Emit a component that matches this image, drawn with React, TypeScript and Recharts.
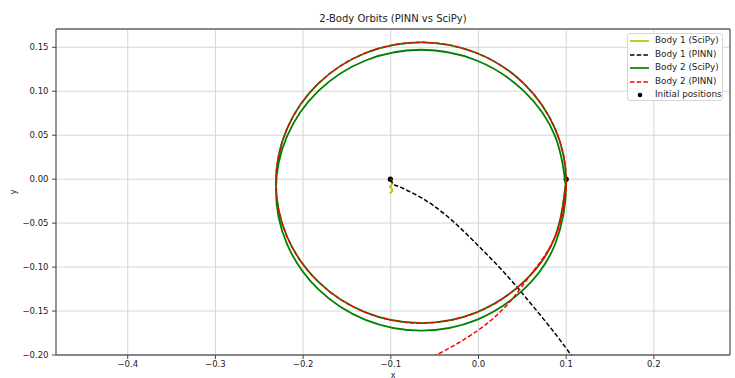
import { CartesianGrid, ReferenceLine, Scatter, ScatterChart, XAxis, YAxis } from "recharts";

type Pt = [number, number];

const xTicks = [-0.4, -0.3, -0.2, -0.1, 0, 0.1, 0.2];
const yTicks = [-0.2, -0.15, -0.1, -0.05, 0, 0.05, 0.1, 0.15];
const xDomain = [-0.4818, 0.2868];
const yDomain = [-0.2, 0.1708];

const initialPositions: Pt[] = [
  [-0.1005, 0.0],
  [0.1, 0.0],
];

const body1SciPy: Pt[] = [
  [-0.1005, 0.0], [-0.0985, -0.0025], [-0.0982, -0.005], [-0.1, -0.0075], [-0.1012, -0.0085],
  [-0.0995, -0.01], [-0.0982, -0.0125], [-0.0995, -0.015], [-0.1015, -0.016],
];

const body1Pinn: Pt[] = [
  [-0.1005, 0.0], [-0.0985, -0.004], [-0.096, -0.0065], [-0.09, -0.0088], [-0.07, -0.0185],
  [-0.05, -0.031], [-0.03, -0.047], [-0.01, -0.066], [0.01, -0.086], [0.03, -0.107],
  [0.05, -0.13], [0.07, -0.154], [0.09, -0.179], [0.1056, -0.2], [0.114, -0.211],
];

const body2SciPy: Pt[] = [
  [0.1, 0.0],
  [0.0874, -0.0652], [0.0515, -0.1169], [-0.0021, -0.1515], [-0.0655, -0.1637],
  [-0.1289, -0.1515], [-0.1825, -0.1169], [-0.2184, -0.0652], [-0.231, -0.004],
  [-0.2184, 0.0572], [-0.1825, 0.1089], [-0.1289, 0.1435], [-0.0655, 0.1557],
  [-0.0021, 0.1435], [0.0515, 0.1089], [0.0874, 0.0572], [0.1, -0.004],
  [0.0874, -0.0737], [0.0515, -0.1254], [-0.0021, -0.16], [-0.0655, -0.1722],
  [-0.1289, -0.16], [-0.1825, -0.1254], [-0.2184, -0.0737], [-0.231, -0.0125],
  [-0.2184, 0.0487], [-0.1825, 0.1004], [-0.1289, 0.135], [-0.0655, 0.1472],
  [-0.0021, 0.135], [0.0515, 0.1004], [0.0874, 0.0487], [0.1, -0.0125],
];

const body2Pinn: Pt[] = [
  [0.1, 0.0],
  [0.0874, -0.0652], [0.0515, -0.1169], [-0.0021, -0.1515], [-0.0655, -0.1637],
  [-0.1289, -0.1515], [-0.1825, -0.1169], [-0.2184, -0.0652], [-0.231, -0.004],
  [-0.2184, 0.0572], [-0.1825, 0.1089], [-0.1289, 0.1435], [-0.0655, 0.1557],
  [-0.0021, 0.1435], [0.0515, 0.1089], [0.0874, 0.0572], [0.1, -0.004],
  [0.0874, -0.0655], [0.06, -0.108], [0.04, -0.1345], [0.02, -0.1555], [0.0, -0.1715],
  [-0.025, -0.1875], [-0.05, -0.201], [-0.07, -0.211],
];

const toPoints = (pts: Pt[]) => pts.map(([x, y]) => ({ x, y }));

const font = "'DejaVu Sans', sans-serif";
const textColor = "#222";
const spine = "#666";
const dash = "4.5 2.2";

const fmtX = (v: number) => v.toFixed(1).replace("-", "\u2212");
const fmtY = (v: number) => v.toFixed(2).replace("-", "\u2212");

const noDot = () => <g />;
const blackDot = (p: any) => <circle cx={p.cx} cy={p.cy} r={2.6} fill="#000" />;

const legendItems = [
  { label: "Body 1 (SciPy)", color: "#bfbf00", dashed: false, dot: false },
  { label: "Body 1 (PINN)", color: "#000", dashed: true, dot: false },
  { label: "Body 2 (SciPy)", color: "#008000", dashed: false, dot: false },
  { label: "Body 2 (PINN)", color: "#ff0000", dashed: true, dot: false },
  { label: "Initial positions", color: "#000", dashed: false, dot: true },
];

function OrbitLegend() {
  return (
    <div
      style={{
        position: "absolute",
        left: 627,
        top: 33,
        width: 96,
        height: 68,
        border: "1px solid #d6d6d6",
        borderRadius: 3,
        background: "rgba(255,255,255,0.85)",
        fontFamily: font,
        fontSize: 8.8,
        color: textColor,
        boxSizing: "border-box",
      }}
    >
      {legendItems.map((it, i) => (
        <div
          key={it.label}
          style={{ position: "absolute", left: 0, top: i * 13.5, height: 13.5, lineHeight: "13.5px", whiteSpace: "nowrap" }}
        >
          <svg width={22} height={13.5} style={{ position: "absolute", left: 1, top: 0 }}>
            {it.dot ? (
              <circle cx={11} cy={7} r={2.3} fill="#000" />
            ) : (
              <line x1={1} x2={20} y1={7} y2={7} stroke={it.color} strokeWidth={1.7} strokeDasharray={it.dashed ? dash : undefined} />
            )}
          </svg>
          <span style={{ position: "absolute", left: 27 }}>{it.label}</span>
        </div>
      ))}
    </div>
  );
}

export default function App() {
  const tickStyle = { fontSize: 8.5, fill: textColor, fontFamily: font };
  return (
    <div style={{ position: "absolute", left: 0, top: 0, width: 735, height: 378, background: "#fff" }}>
      <div
        style={{
          position: "absolute",
          left: 243,
          top: 12,
          width: 300,
          textAlign: "center",
          fontFamily: font,
          fontSize: 10,
          lineHeight: "14px",
          color: textColor,
        }}
      >
        2-Body Orbits (PINN vs SciPy)
      </div>
      <ScatterChart width={735} height={378} margin={{ top: 29, right: 5, bottom: 0, left: 0 }}>
        <CartesianGrid stroke="#d6d6d6" strokeWidth={1} />
        <XAxis
          type="number"
          dataKey="x"
          domain={xDomain}
          ticks={xTicks}
          interval={0}
          allowDataOverflow
          tickFormatter={fmtX}
          height={23}
          tickSize={4}
          tickMargin={2}
          axisLine={{ stroke: spine, strokeWidth: 1.3 }}
          tickLine={{ stroke: "#444" }}
          tick={tickStyle}
          label={{ value: "x", position: "insideBottom", offset: 0, style: { fontSize: 8, fill: textColor, fontFamily: font } }}
        />
        <YAxis
          type="number"
          dataKey="y"
          domain={yDomain}
          ticks={yTicks}
          interval={0}
          allowDataOverflow
          tickFormatter={fmtY}
          width={56}
          tickSize={4}
          tickMargin={3.5}
          axisLine={{ stroke: spine, strokeWidth: 1.3 }}
          tickLine={{ stroke: "#444" }}
          tick={tickStyle}
          label={{ value: "y", angle: -90, position: "insideLeft", offset: 13, style: { fontSize: 8.5, fill: textColor, fontFamily: font, textAnchor: "middle" } }}
        />
        <ReferenceLine y={yDomain[1]} stroke={spine} strokeWidth={1.3} />
        <ReferenceLine x={xDomain[1]} stroke={spine} strokeWidth={1.3} />
        <Scatter data={toPoints(initialPositions)} shape={blackDot} isAnimationActive={false} />
        <Scatter
          data={toPoints(body1SciPy)}
          shape={noDot}
          line={{ stroke: "#bfbf00", strokeWidth: 1.7 }}
          lineJointType="natural"
          isAnimationActive={false}
        />
        <Scatter
          data={toPoints(body1Pinn)}
          shape={noDot}
          line={{ stroke: "#000", strokeWidth: 1.5, strokeDasharray: dash }}
          lineJointType="natural"
          isAnimationActive={false}
        />
        <Scatter
          data={toPoints(body2SciPy)}
          shape={noDot}
          line={{ stroke: "#008000", strokeWidth: 1.8 }}
          lineJointType="natural"
          isAnimationActive={false}
        />
        <Scatter
          data={toPoints(body2Pinn)}
          shape={noDot}
          line={{ stroke: "#ff0000", strokeWidth: 1.5, strokeDasharray: dash }}
          lineJointType="natural"
          isAnimationActive={false}
        />
      </ScatterChart>
      <OrbitLegend />
    </div>
  );
}
